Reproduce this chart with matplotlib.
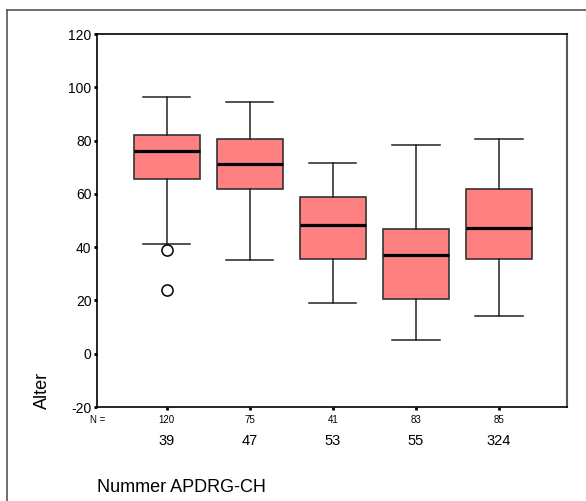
import matplotlib.pyplot as plt
from matplotlib.lines import Line2D
from matplotlib.transforms import blended_transform_factory

plt.rcParams['font.family'] = ['Liberation Sans', 'DejaVu Sans']
plt.rcParams['axes.unicode_minus'] = False

# Data
categories = ['39', '47', '53', '55', '324']
counts = ['120', '75', '41', '83', '85']
whisker_low = [41, 35, 19, 5, 14]
q1 = [65.5, 62, 35.5, 20.5, 35.5]
median = [76, 71.3, 48.2, 37, 47.2]
q3 = [82, 80.5, 59, 47, 62]
whisker_high = [96.5, 94.5, 71.5, 78.5, 80.5]
outliers = [[39, 24], [], [], [], []]

stats = []
for i in range(len(categories)):
    stats.append({
        'whislo': whisker_low[i], 'q1': q1[i], 'med': median[i],
        'q3': q3[i], 'whishi': whisker_high[i], 'fliers': outliers[i],
    })

fig = plt.figure(figsize=(5.86, 5.01), dpi=100)
ax = fig.add_axes([0.1655, 0.1876, 0.8021, 0.7445])

positions = list(range(1, len(categories) + 1))
ax.bxp(stats, positions=positions, widths=0.8, patch_artist=True,
       showfliers=True, capwidths=0.57,
       boxprops=dict(facecolor='#ff8080', edgecolor='#333333', linewidth=1.2),
       medianprops=dict(color='black', linewidth=2.3),
       whiskerprops=dict(color='#222222', linewidth=1.1),
       capprops=dict(color='#222222', linewidth=1.1),
       flierprops=dict(marker='o', markersize=8, markerfacecolor='white',
                       markeredgecolor='black', markeredgewidth=1.1))

ax.set_xlim(0.16, 5.82)
ax.set_ylim(-20, 120)
ax.set_yticks([-20, 0, 20, 40, 60, 80, 100, 120])
ax.tick_params(axis='y', direction='out', length=2.5, width=2, labelsize=10, pad=1.5)
ax.set_xticks(positions)
ax.set_xticklabels([])
ax.tick_params(axis='x', direction='out', length=2.5, width=2, pad=2)

for side in ['left', 'bottom', 'top']:
    ax.spines[side].set_color('black')
    ax.spines[side].set_linewidth(1.2)
ax.spines['right'].set_color('#555555')
ax.spines['right'].set_linewidth(1.5)

# N row and category labels under the axis
trans = blended_transform_factory(ax.transData, ax.transAxes)
ax.text(0.002, -0.035, 'N =', transform=ax.transAxes, fontsize=7,
        ha='center', va='center')
for pos, n, cat in zip(positions, counts, categories):
    ax.text(pos, -0.035, n, transform=trans, fontsize=7, ha='center', va='center')
    ax.text(pos, -0.09, cat, transform=trans, fontsize=10.5, ha='center', va='center')

fig.text(97 / 586, 1 - 487 / 501, 'Nummer APDRG-CH', fontsize=13,
         ha='left', va='center')
fig.text(42 / 586, 1 - 390 / 501, 'Alter', fontsize=13, rotation=90,
         ha='center', va='center')

# outer frame lines (top and left)
fig.add_artist(Line2D([7 / 586, 1], [1 - 10 / 501, 1 - 10 / 501],
                      transform=fig.transFigure, color='#555555', linewidth=1.2))
fig.add_artist(Line2D([7 / 586, 7 / 586], [0, 1 - 10 / 501],
                      transform=fig.transFigure, color='#555555', linewidth=1.2))

fig.savefig('out.png', dpi=100)
